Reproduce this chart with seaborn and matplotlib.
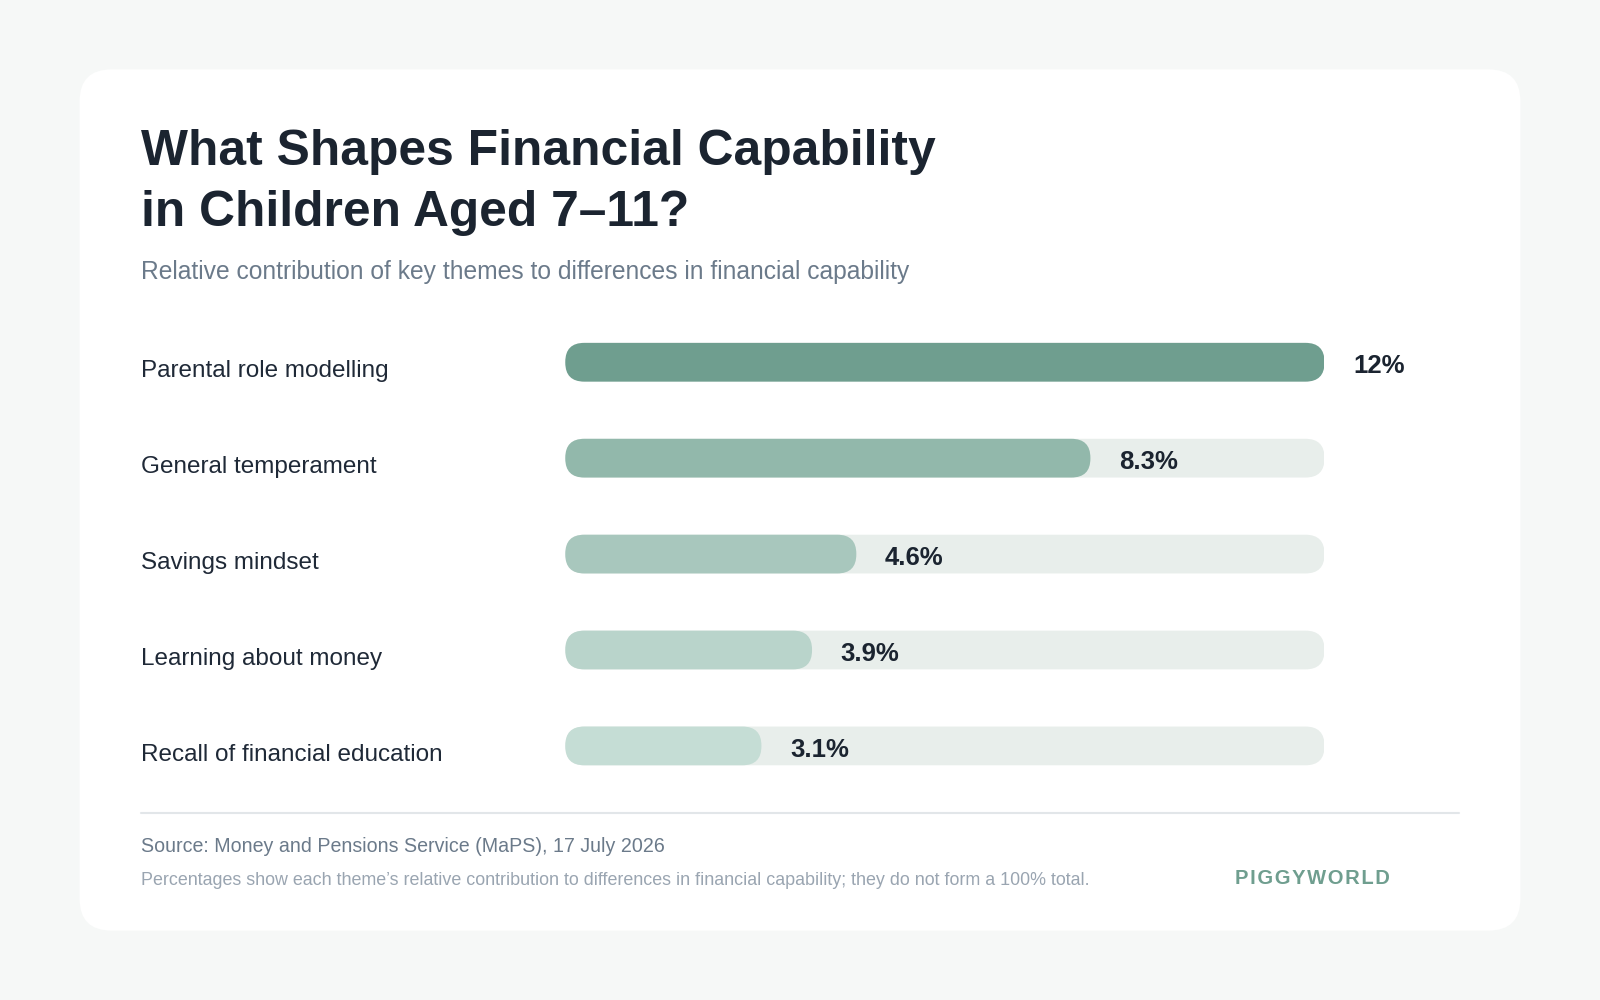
import matplotlib
matplotlib.use("Agg")
import matplotlib.pyplot as plt
from matplotlib.patches import FancyBboxPatch
import seaborn as sns
import pandas as pd

themes = ["Parental role modelling", "General temperament", "Savings mindset",
          "Learning about money", "Recall of financial education"]
values = [12, 8.3, 4.6, 3.9, 3.1]
value_labels = ["12%", "8.3%", "4.6%", "3.9%", "3.1%"]
bar_colors = ["#6f9e8f", "#92b8ab", "#a8c7bd", "#b9d4cb", "#c5ddd5"]
track_max = 12

sns.set_theme(style="white")
plt.rcParams['font.family'] = ['Liberation Sans', 'DejaVu Sans']

W, H = 1568, 980
fig = plt.figure(figsize=(16, 10), dpi=100)
fig.patch.set_facecolor("#f6f8f7")

# card
card = FancyBboxPatch((78 / W, 1 - 912 / H), (1490 - 78) / W, (912 - 68) / H,
                      boxstyle="round,pad=0,rounding_size=0.02",
                      mutation_aspect=W / H, transform=fig.transFigure,
                      facecolor="white", edgecolor="none", zorder=-5)
fig.patches.append(card)

ax = fig.add_axes([554 / W, 1 - 778 / H, 744 / W, 470 / H])
ax.set_zorder(2)
ax.set_facecolor("none")
df = pd.DataFrame({"theme": themes, "value": values,
                   "track": [track_max] * len(themes)})
sns.barplot(data=df, y="theme", x="track", color="#e8eeeb", width=0.404,
            saturation=1, ax=ax)
sns.barplot(data=df, y="theme", x="value", hue="theme", palette=bar_colors,
            width=0.404, saturation=1, legend=False, ax=ax)
ax.set_xlim(0, track_max)
ax.set_ylim(len(themes) - 0.5, -0.5)

# swap bar patches for pill-shaped ones
rx = 0.30
for p in list(ax.patches):
    x, y, w, h = p.get_x(), p.get_y(), p.get_width(), p.get_height()
    fc = p.get_facecolor()
    p.remove()
    ax.add_patch(FancyBboxPatch((x, y), w, h,
                                boxstyle=f"round,pad=0,rounding_size={rx}",
                                mutation_aspect=0.66, facecolor=fc,
                                edgecolor="none"))

for i, (v, lab) in enumerate(zip(values, value_labels)):
    ax.text(v + 0.45, i + 0.04, lab, va="center", ha="left", fontsize=18.5,
            fontweight="bold", color="#1b2430", clip_on=False)
    ax.text(-0.559, i + 0.09, themes[i], transform=ax.get_yaxis_transform(),
            va="center", ha="left", fontsize=17.5, color="#1f2937", clip_on=False)

ax.set_xlabel("")
ax.set_ylabel("")
ax.set_xticks([])
ax.set_yticks([])
sns.despine(ax=ax, left=True, bottom=True)

fig.text(138 / W, 1 - 149 / H, "What Shapes Financial Capability", fontsize=35.8,
         fontweight="bold", color="#1b2430", va="center", ha="left")
fig.text(138 / W, 1 - 209 / H, "in Children Aged 7–11?", fontsize=35.8,
         fontweight="bold", color="#1b2430", va="center", ha="left")
fig.text(138 / W, 1 - 267 / H,
         "Relative contribution of key themes to differences in financial capability",
         fontsize=17.7, color="#6b7a8a", va="center", ha="left")

fig.add_artist(plt.Line2D([138 / W, 1430 / W], [1 - 797 / H, 1 - 797 / H],
                          color="#e2e6e9", lw=1.5, transform=fig.transFigure))
fig.text(138 / W, 1 - 830 / H, "Source: Money and Pensions Service (MaPS), 17 July 2026",
         fontsize=14.1, color="#6b7a8a", va="center", ha="left")
fig.text(138 / W, 1 - 863 / H,
         "Percentages show each theme’s relative contribution to differences in financial capability; they do not form a 100% total.",
         fontsize=12.9, color="#9aa5b1", va="center", ha="left")
fig.text(1362 / W, 1 - 861 / H, "\u200a".join("PIGGYWORLD"),
         fontsize=14.5, fontweight="bold", color="#6f9e8f", va="center", ha="right")

plt.savefig("out.png", dpi=100, facecolor=fig.get_facecolor())
plt.close()
